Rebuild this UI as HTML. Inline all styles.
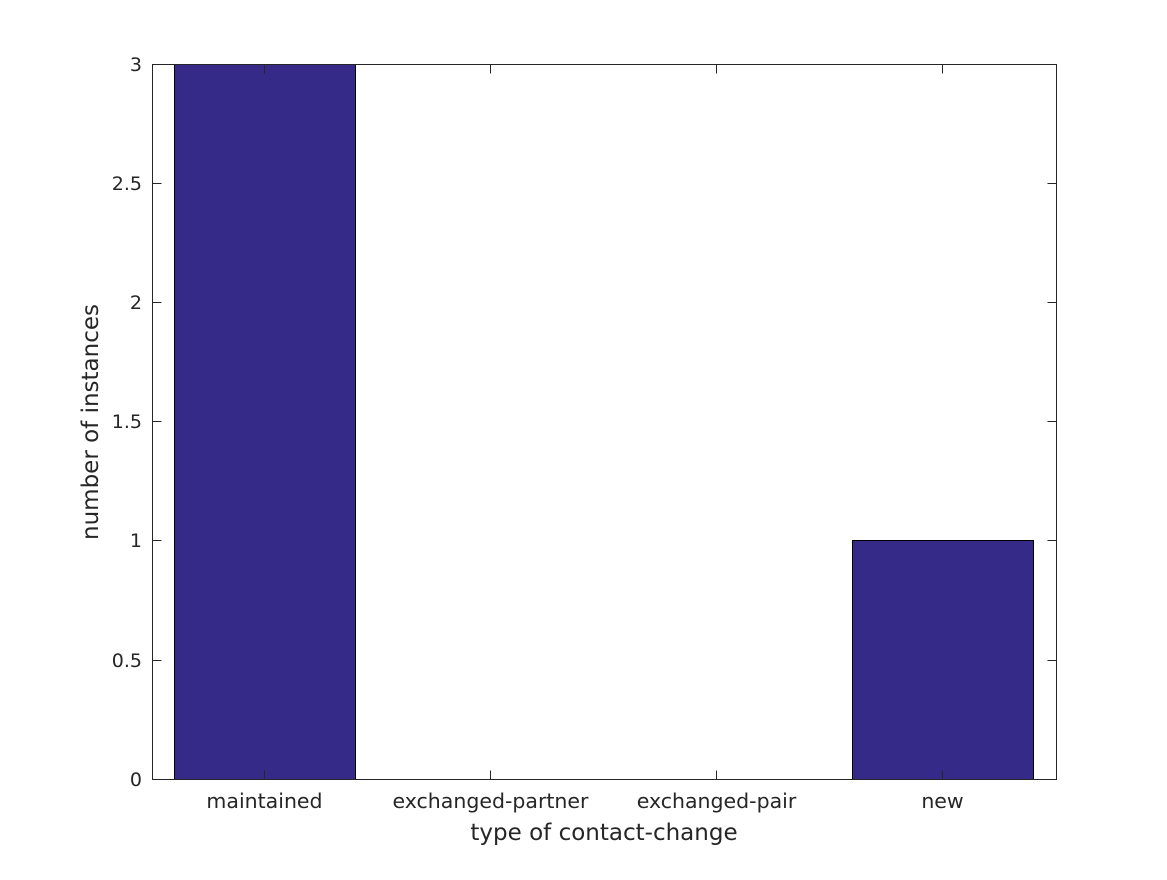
<!DOCTYPE html>
<html><head><style>body{margin:0;background:#fff}</style></head><body>
<svg width="1167" height="875" xmlns="http://www.w3.org/2000/svg" font-family="DejaVu Sans, sans-serif" fill="#262626">
<rect width="1167" height="875" fill="#fff"/>
<rect x="174.5" y="64.5" width="181" height="715" fill="#352a87" stroke="#000" stroke-width="1"/>
<rect x="852.5" y="540.5" width="181" height="239" fill="#352a87" stroke="#000" stroke-width="1"/>
<g stroke="#262626" stroke-width="1" fill="none">
<rect x="152.5" y="64.5" width="904" height="715"/>
<path d="M152.5 779.5h9M152.5 660.5h9M152.5 540.5h9M152.5 421.5h9M152.5 302.5h9M152.5 183.5h9M152.5 64.5h9"/>
<path d="M1056.5 779.5h-9M1056.5 660.5h-9M1056.5 540.5h-9M1056.5 421.5h-9M1056.5 302.5h-9M1056.5 183.5h-9M1056.5 64.5h-9"/>
<path d="M264.5 779.5v-9M490.5 779.5v-9M716.5 779.5v-9M942.5 779.5v-9"/>
<path d="M264.5 64.5v9M490.5 64.5v9M716.5 64.5v9M942.5 64.5v9"/>
</g>
<g font-size="19" text-anchor="end">
<text x="142" y="786">0</text><text x="142" y="667">0.5</text><text x="142" y="547">1</text>
<text x="142" y="428">1.5</text><text x="142" y="309">2</text><text x="142" y="190">2.5</text><text x="142" y="71">3</text>
</g>
<g font-size="20.5" text-anchor="middle">
<text x="264.5" y="808">maintained</text><text x="490.5" y="808">exchanged-partner</text>
<text x="716.5" y="808">exchanged-pair</text><text x="942.5" y="808">new</text>
<text x="604" y="840" font-size="23">type of contact-change</text>
<text transform="translate(98 422) rotate(-90)" font-size="23">number of instances</text>
</g>
</svg>
</body></html>
